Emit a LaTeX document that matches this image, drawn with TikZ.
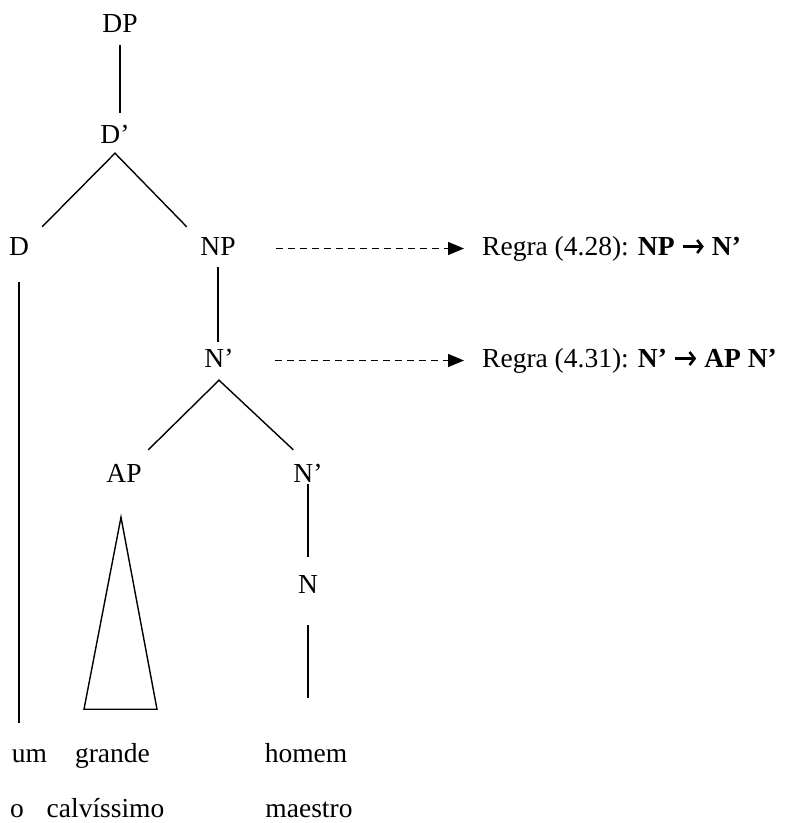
\documentclass[tikz,border=0pt]{standalone}
\usepackage{fontspec}
\setmainfont{Liberation Serif}
\usetikzlibrary{arrows.meta}
\newcommand{\ruleto}{\tikz[baseline=0pt]\draw[line width=2.6pt,
  -{Straight Barb[length=5pt,width=13pt]}] (0,8.5pt) -- (21pt,8.5pt);}
\tikzset{
  cat/.style={font=\fontsize{27.5}{33}\selectfont, inner sep=0pt,
    text height=19pt, text depth=6pt, anchor=base},
  branch/.style={line width=1.4pt},
  rulearrow/.style={line width=1.3pt, dash pattern=on 7pt off 5pt,
    -{Triangle[length=16pt,width=13pt]}},
}
\begin{document}
\begin{tikzpicture}[x=1pt,y=1pt]
  \useasboundingbox (0,0) rectangle (788,-823);
  % tree
  \node[cat] (DP) at (120,-32) {DP};
  \node[cat] (Dbar) at (115,-143) {D’};
  \node[cat] (D) at (19,-255) {D};
  \node[cat] (NP) at (218,-255) {NP};
  \node[cat] (Nbar) at (219,-367) {N’};
  \node[cat] (AP) at (124,-482) {AP};
  \node[cat] (Nbar2) at (308,-482) {N’};
  \node[cat] (N) at (308,-593) {N};
  % words
  \node[cat] (um) at (29.5,-762) {um};
  \node[cat] (grande) at (112.5,-762) {grande};
  \node[cat] (homem) at (306,-762) {homem};
  \node[cat] (o) at (17,-817) {o};
  \node[cat] (calv) at (105.5,-817) {calvíssimo};
  \node[cat] (maestro) at (309,-817) {maestro};
  % rules
  \node[cat, anchor=base west] (rule1) at (482,-255) {Regra (4.28): \textbf{NP \ruleto\ N’}};
  \node[cat, anchor=base west] (rule2) at (482,-367) {Regra (4.31): \textbf{N’ \ruleto\ AP N’}};

  \begin{scope}[branch]
    \draw ([yshift=-7pt]DP.south) -- ([yshift=11pt]DP.south |- Dbar.north);
    \draw ([shift={(13pt,9pt)}]D.north east) -- ([yshift=-4pt]Dbar.south)
      -- ([shift={(-13.5pt,9pt)}]NP.north west);
    \draw ([yshift=-6pt]NP.south) -- ([yshift=6pt]NP.south |- Nbar.north);
    \draw ([shift={(6.5pt,13pt)}]AP.north east) -- ([yshift=-7pt]Nbar.south)
      -- ([yshift=13pt]Nbar2.north west);
    \draw ([yshift=4pt]Nbar2.south) -- ([yshift=17pt]Nbar2.south |- N.north);
    \draw ([yshift=-26pt]N.south) -- ([yshift=45pt]N.south |- homem.north);
    \draw ([yshift=-21pt]D.south) -- ([yshift=20pt]D.south |- um.north);
    \draw ([shift={(-3pt,-29pt)}]AP.south) -- ([shift={(-40pt,-221pt)}]AP.south)
      -- ([shift={(33pt,-221pt)}]AP.south) -- cycle;
  \end{scope}
  \draw[rulearrow] ([xshift=40pt]NP.east) -- ([xshift=-18pt]rule1.west);
  \draw[rulearrow] ([xshift=41.5pt]Nbar.east) -- ([xshift=-18pt]rule2.west);
\end{tikzpicture}
\end{document}
